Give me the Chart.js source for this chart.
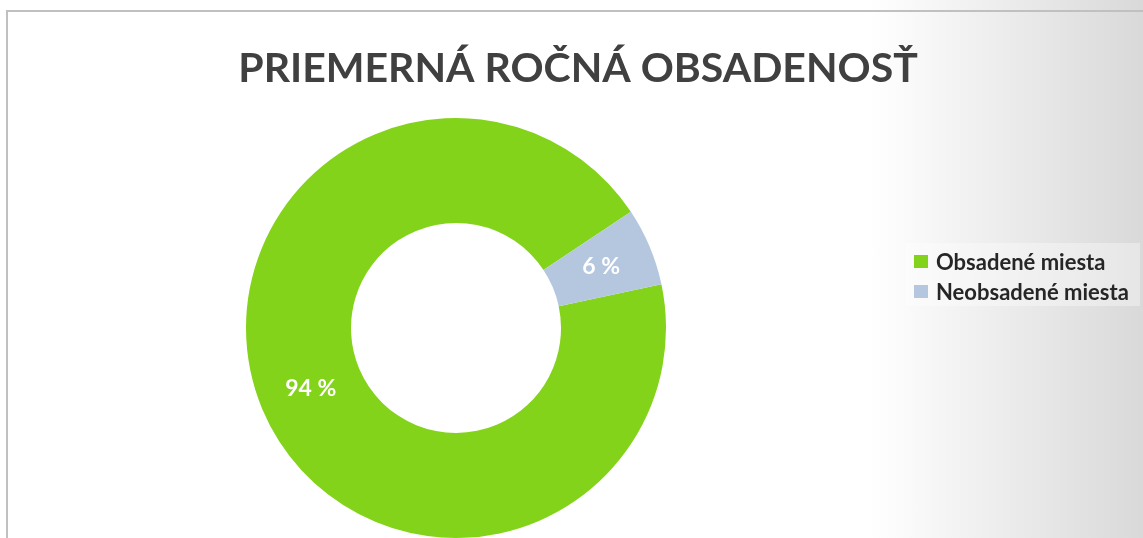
<!DOCTYPE html>
<html><head><meta charset="utf-8">
<script src="https://cdn.jsdelivr.net/npm/chart.js@4/dist/chart.umd.min.js"></script>
<style>
html,body{margin:0;padding:0;width:1143px;height:538px;overflow:hidden;background:#fff;}
#wrap{position:relative;width:1143px;height:538px;background:linear-gradient(to right,#ffffff 0px,#ffffff 870px,#d9d9d9 1143px);}
#frame{position:absolute;left:6px;top:10px;width:1200px;height:600px;border-left:2px solid #c0c0c0;border-top:2px solid #c0c0c0;}
#c{position:absolute;left:0;top:0;}
#legend{position:absolute;left:906px;top:243px;width:234px;height:63px;background:rgba(255,255,255,0.35);font-family:Lato,sans-serif;font-size:22px;font-weight:bold;color:#262626;}
.item{position:absolute;left:0;height:24px;line-height:24px;white-space:nowrap;}
.sw{position:absolute;left:8px;top:5px;width:14px;height:13px;}
.tx{position:absolute;left:30px;top:0;}
</style></head>
<body>
<div id="wrap">
<div id="frame"></div>
<canvas id="c" width="1143" height="538"></canvas>
<div id="legend"></div>
</div>
<script>
const chartTitle = 'PRIEMERNÁ ROČNÁ OBSADENOSŤ';
const categories = ['Obsadené miesta', 'Neobsadené miesta'];
const values = [94, 6];
const colors = ['#84D31B', '#B4C7DE'];

const titlePlugin = {
  id: 'customTitle',
  afterDraw(chart) {
    const ctx = chart.ctx;
    ctx.save();
    ctx.font = 'bold 41px Lato';
    ctx.fillStyle = '#404040';
    ctx.textAlign = 'center';
    ctx.textBaseline = 'alphabetic';
    ctx.fillText(chartTitle, 578, 82);
    ctx.restore();
  }
};

const labelPlugin = {
  id: 'sliceLabels',
  afterDatasetsDraw(chart) {
    const ctx = chart.ctx;
    const meta = chart.getDatasetMeta(0);
    ctx.save();
    ctx.font = 'bold 23px Lato';
    ctx.fillStyle = '#ffffff';
    ctx.textAlign = 'center';
    ctx.textBaseline = 'middle';
    meta.data.forEach((arc, i) => {
      const p = arc.tooltipPosition();
      ctx.fillText(values[i] + ' %', p.x, p.y);
    });
    ctx.restore();
  }
};

const chart = new Chart(document.getElementById('c'), {
  type: 'doughnut',
  data: {
    labels: categories,
    datasets: [{ data: values, backgroundColor: colors, borderWidth: 0 }]
  },
  options: {
    responsive: false,
    animation: false,
    rotation: 78,
    cutout: '50%',
    layout: { padding: { top: 118, left: 0, right: 231, bottom: 0 } },
    plugins: {
      legend: { display: false },
      title: { display: false },
      tooltip: { enabled: false }
    }
  },
  plugins: [titlePlugin, labelPlugin]
});

const leg = document.getElementById('legend');
categories.forEach((c, i) => {
  const it = document.createElement('div');
  it.className = 'item';
  it.style.top = (7 + i * 30) + 'px';
  const sw = document.createElement('span');
  sw.className = 'sw';
  sw.style.background = colors[i];
  const tx = document.createElement('span');
  tx.className = 'tx';
  tx.textContent = c;
  it.appendChild(sw); it.appendChild(tx);
  leg.appendChild(it);
});
</script>
</body></html>
